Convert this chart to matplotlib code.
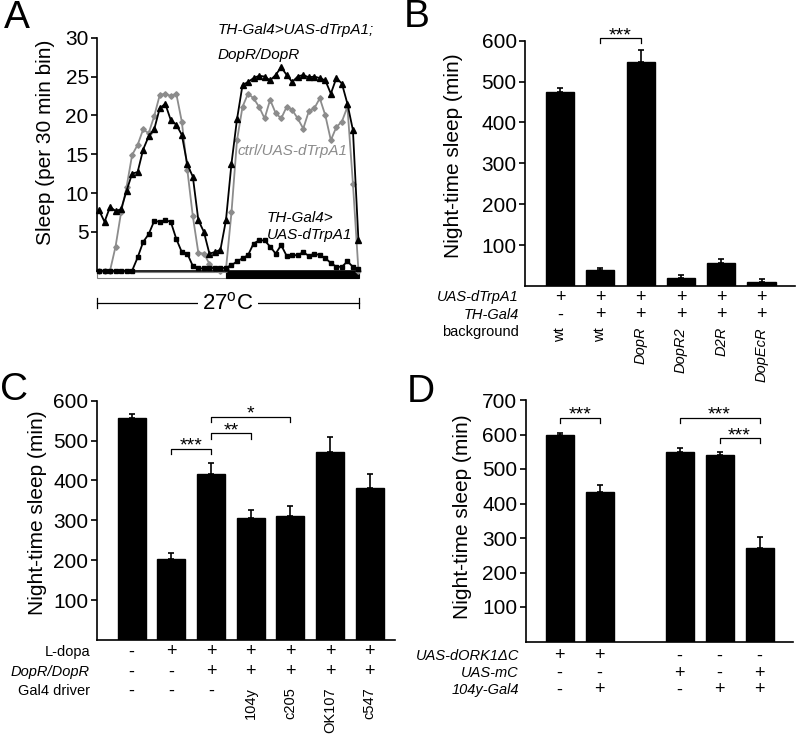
import numpy as np
import matplotlib
matplotlib.use('Agg')
import matplotlib.pyplot as plt
from matplotlib.patches import Rectangle
from matplotlib.transforms import blended_transform_factory

plt.rcParams['font.family'] = ['Liberation Sans', 'DejaVu Sans']
plt.rcParams['mathtext.fontset'] = 'custom'
plt.rcParams['mathtext.rm'] = 'Liberation Sans'

W, H = 800, 738

# ---- panel A: sleep per 30 min bin, 24 h at 27C (light then dark)
bins = np.arange(48)
sleep_dopr = [7.8, 6.3, 8.2, 7.7, 7.9, 10.3, 12.5, 12.7, 15.6, 17.3,
              18.2, 20.9, 21.5, 19.4, 18.8, 17.5, 13.7, 12.1, 6.5, 5.0,
              2.2, 2.4, 2.7, 6.5, 13.8, 19.5, 23.9, 24.3, 24.8, 25.1,
              25.0, 24.5, 25.2, 26.2, 25.2, 24.3, 25.0, 25.2, 24.9, 25.0,
              24.8, 24.5, 22.8, 24.8, 24.1, 21.5, 18.1, 3.9]
sleep_ctrl = [0, 0, 0, 3.1, 7.5, 10.8, 14.9, 16.2, 18.2, 17.7,
              19.9, 22.6, 22.8, 22.5, 22.8, 19.2, 13.0, 7.0, 2.3, 2.2,
              0.9, 0.2, 0, 0.2, 7.5, 16.8, 21.1, 22.8, 22.2, 21.1,
              19.6, 22.0, 20.3, 19.6, 21.1, 20.7, 19.6, 18.3, 20.5, 20.9,
              22.2, 20.0, 16.8, 18.5, 19.2, 21.1, 11.2, 0]
sleep_th = [0, 0, 0, 0, 0, 0, 0, 1.7, 3.7, 4.7,
            6.4, 6.3, 6.5, 6.3, 4.1, 2.4, 2.2, 0.6, 0.3, 0.3,
            0.4, 0.3, 0.3, 0.4, 0.7, 1.2, 1.6, 2.0, 3.5, 3.9,
            3.9, 3.1, 2.2, 3.3, 1.9, 2.0, 2.0, 2.4, 1.9, 2.2,
            2.0, 1.6, 1.0, 0.5, 0.5, 1.2, 0.5, 0.2]
light_end = 23

# ---- panel B
b_vals = [474, 38, 548, 20, 57, 10]
b_err = [10, 6, 30, 6, 10, 8]
b_uas = ['+', '+', '+', '+', '+', '+']
b_th = ['-', '+', '+', '+', '+', '+']
b_bg = ['wt', 'wt', 'DopR', 'DopR2', 'D2R', 'DopEcR']

# ---- panel C
c_vals = [557, 202, 417, 306, 312, 471, 382]
c_err = [10, 16, 26, 21, 23, 37, 35]
c_ldopa = ['-', '+', '+', '+', '+', '+', '+']
c_dopr = ['-', '-', '+', '+', '+', '+', '+']
c_gal4 = ['-', '-', '-', '104y', 'c205', 'OK107', 'c547']

# ---- panel D
d_pos = [0, 1, 3, 4, 5]
d_vals = [598, 434, 550, 541, 272]
d_err = [7, 19, 10, 9, 31]
d_ork = ['+', '+', '-', '-', '-']
d_mc = ['-', '-', '+', '-', '+']
d_gal4 = ['-', '+', '-', '+', '+']

fig = plt.figure(figsize=(W / 100, H / 100), dpi=100)


def px(x, y):
    return x / W, 1 - y / H


def style_axes(ax, ticks):
    for s in ['top', 'right']:
        ax.spines[s].set_visible(False)
    for s in ['left', 'bottom']:
        ax.spines[s].set_linewidth(1.2)
    ax.set_xticks([])
    ax.set_yticks(ticks)
    ax.tick_params(axis='y', direction='out', length=4, width=1.2, labelsize=15, pad=2)


def bar_panel(rect, pos, vals, errs, xlim, ylim, ticks):
    ax = fig.add_axes(rect)
    ax.bar(pos, vals, width=0.7, color='black', edgecolor='black')
    ax.errorbar(pos, vals, yerr=[np.zeros(len(errs)), errs], fmt='none',
                ecolor='black', elinewidth=1.2, capsize=2.5, capthick=1.2)
    ax.set_xlim(*xlim)
    ax.set_ylim(*ylim)
    style_axes(ax, ticks)
    ax.set_ylabel('Night-time sleep (min)', fontsize=15)
    return ax


def bracket(ax, x1, x2, y, drop, stars, star_y):
    ax.plot([x1, x1, x2, x2], [y - drop, y, y, y - drop], color='black', lw=0.9, clip_on=False)
    ax.text((x1 + x2) / 2, star_y, stars, ha='center', va='center', fontsize=14, clip_on=False)


def table(ax, pos, rows, names, ys, italic, label_x, rot_top, rot_italic):
    tr = blended_transform_factory(ax.transData, fig.transFigure)
    for row, name, y, it in zip(rows, names, ys, italic):
        fig.text(*px(label_x, y), name, ha='right', va='center', fontsize=10.5,
                 style='italic' if it else 'normal')
        for x, s in zip(pos, row):
            if s in ('+', '-'):
                ax.text(x, px(0, y)[1], s, transform=tr, ha='center', va='center', fontsize=13)
            else:
                ax.text(x, px(0, rot_top)[1], s, transform=tr, ha='center', va='top',
                        rotation=90, fontsize=10.5,
                        style='italic' if (rot_italic and s != 'wt') else 'normal')


# ---------------- A
axA = fig.add_axes([97 / W, 1 - 270.7 / H, 262 / W, 233 / H])
axA.plot(bins, sleep_ctrl, color='#8c8c8c', lw=1.3, marker='D', ms=2.8, clip_on=False)
axA.plot(bins, sleep_dopr, color='black', lw=1.3, marker='^', ms=4.2, clip_on=False)
axA.plot(bins, sleep_th, color='black', lw=1.3, marker='s', ms=3.3, clip_on=False)
axA.set_xlim(-0.36, 47.1)
axA.set_ylim(0, 30)
style_axes(axA, [5, 10, 15, 20, 25, 30])
axA.set_ylabel('Sleep (per 30 min bin)', fontsize=15)
axA.yaxis.set_label_coords(-0.16, 0.55)
trA = axA.get_xaxis_transform()
x0, x1 = axA.get_xlim()
axA.add_patch(Rectangle((x0, -0.03), light_end - x0, 0.026, transform=trA, facecolor='white',
                        edgecolor='#808080', lw=0.8, clip_on=False))
axA.add_patch(Rectangle((light_end, -0.03), x1 - light_end, 0.028, transform=trA, facecolor='black',
                        edgecolor='black', lw=0.8, clip_on=False))
ty = -0.139
axA.plot([x0, x1], [ty, ty], color='black', lw=0.9, transform=trA, clip_on=False)
for xe in (x0, x1):
    axA.plot([xe, xe], [ty - 0.02, ty + 0.02], color='black', lw=0.9, transform=trA, clip_on=False)
axA.text(23.3, ty, r'27$^{\mathrm{o}}$C', transform=trA, ha='center', va='center', fontsize=16,
         bbox=dict(facecolor='white', edgecolor='none', pad=3))
fig.text(*px(218, 30), 'TH-Gal4>UAS-dTrpA1;', ha='left', va='center', fontsize=11, style='italic')
fig.text(*px(218, 55), 'DopR/DopR', ha='left', va='center', fontsize=11, style='italic')
fig.text(*px(238, 151), 'ctrl/UAS-dTrpA1', ha='left', va='center', fontsize=11, style='italic',
         color='#8c8c8c')
fig.text(*px(267, 218), 'TH-Gal4>', ha='left', va='center', fontsize=11, style='italic')
fig.text(*px(267, 235), 'UAS-dTrpA1', ha='left', va='center', fontsize=11, style='italic')

# ---------------- B
b_pos = np.arange(len(b_vals))
axB = bar_panel([525 / W, 1 - 286 / H, 270 / W, 245.3 / H], b_pos, b_vals, b_err,
                (-0.87, 5.83), (0, 600), [100, 200, 300, 400, 500, 600])
axB.yaxis.set_label_coords(-0.23, 0.53)
bracket(axB, 1, 2, 606, 11, '***', 612)
table(axB, b_pos, [b_uas, b_th, b_bg], ['UAS-dTrpA1', 'TH-Gal4', 'background'],
      [297, 315, 332], [True, True, False], 519, 327, True)

# ---------------- C
c_pos = np.arange(len(c_vals))
axC = bar_panel([96.7 / W, 1 - 640 / H, 298 / W, 239.3 / H], c_pos, c_vals, c_err,
                (-0.88, 6.63), (0, 600), [100, 200, 300, 400, 500, 600])
axC.yaxis.set_label_coords(-0.167, 0.53)
bracket(axC, 1, 2, 479, 12, '***', 486)
bracket(axC, 2, 3, 519, 14, '**', 525)
bracket(axC, 2, 4, 560, 14, '*', 566)
table(axC, c_pos, [c_ldopa, c_dopr, c_gal4], ['L-dopa', 'DopR/DopR', 'Gal4 driver'],
      [652, 672, 691], [False, True, False], 90, 687, False)

# ---------------- D
axD = bar_panel([525.7 / W, 1 - 641.5 / H, 267 / W, 241.5 / H], d_pos, d_vals, d_err,
                (-0.85, 5.83), (0, 700), [100, 200, 300, 400, 500, 600, 700])
axD.yaxis.set_label_coords(-0.2, 0.517)
bracket(axD, 0, 1, 649, 17, '***', 656)
bracket(axD, 3, 5, 649, 17, '***', 656)
bracket(axD, 4, 5, 590, 16, '***', 597)
table(axD, d_pos, [d_ork, d_mc, d_gal4], ['UAS-dORK1\u0394C', 'UAS-mC', '104y-Gal4'],
      [656, 673, 690], [True, True, True], 519, 700, False)

# panel letters
for letter, x, y in [('A', 17, 18), ('B', 417, 17), ('C', 14, 390), ('D', 421, 392)]:
    fig.text(*px(x, y), letter, ha='center', va='center', fontsize=28)

fig.savefig('out.png', dpi=100)
